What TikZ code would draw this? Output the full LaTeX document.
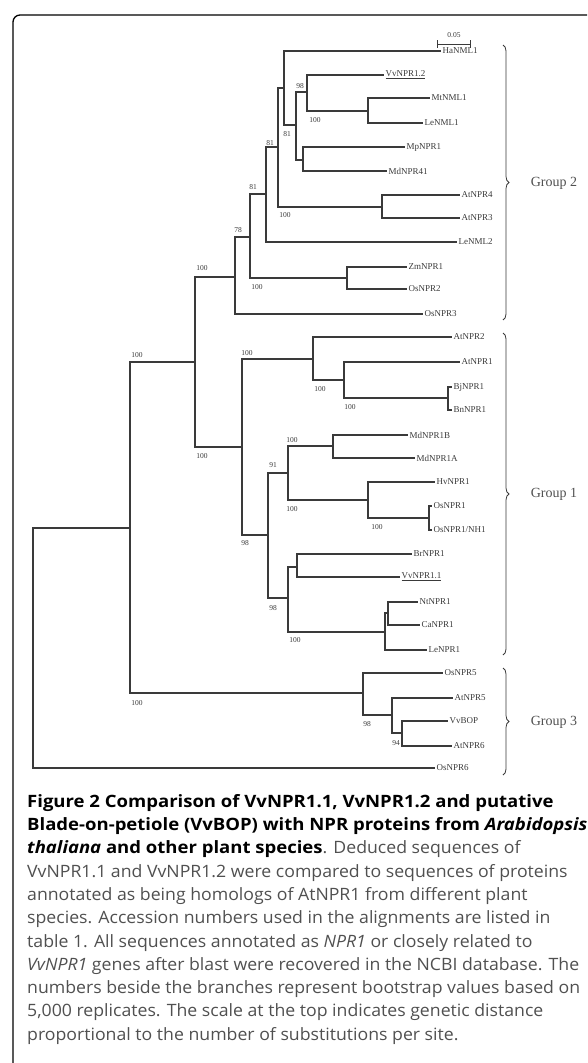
\documentclass[tikz,border=0pt]{standalone}
\usepackage{fontspec}
\setmainfont{Liberation Serif}
\newfontfamily\capfont{Open Sans}[FakeStretch=1.04, BoldFeatures={FakeStretch=1.09}, BoldItalicFeatures={FakeStretch=1.09}]
\usepackage{xcolor}
\usetikzlibrary{decorations.pathreplacing,positioning}
\definecolor{treegray}{HTML}{3A3A3A}
\definecolor{capgray}{HTML}{505050}

\begin{document}
\begin{tikzpicture}[
    x=1pt, y=-1pt,
    branch/.style={draw=treegray, line width=1.1pt},
    leaf/.style={anchor=west, inner sep=1.5pt, font=\fontsize{9}{9}\selectfont, text=treegray},
    boot/.style={inner sep=0pt, font=\fontsize{7.5}{7.5}\selectfont, text=treegray},
    group/.style={font=\fontsize{14}{14}\selectfont, text=capgray},
    gbrace/.style={draw=treegray, line width=0.8pt, decorate, decoration={brace, amplitude=6pt}}
]
    \useasboundingbox (0,0) rectangle (587,1063);
    \draw[line width=1.3pt, rounded corners=7pt] (13,1063) -- (13,15) -- (587,15);

    % internal nodes
    \coordinate (root) at (33,648);
    \coordinate (n_a) at (130,528);
    \coordinate (n_b) at (195,362);
    \coordinate (n_g2) at (235,277);
    \coordinate (n_250) at (250,237);
    \coordinate (n_347) at (347,278);
    \coordinate (n_266) at (266,194);
    \coordinate (n_278) at (278,147);
    \coordinate (n_382) at (382,207);
    \coordinate (n_284) at (284,88);
    \coordinate (n_296) at (296,125);
    \coordinate (n_307) at (307,92);
    \coordinate (n_368) at (368,111);
    \coordinate (n_303) at (303,160);
    \coordinate (n_g1) at (242,447);
    \coordinate (n_313) at (313,359);
    \coordinate (n_344) at (344,380);
    \coordinate (n_448) at (448,398);
    \coordinate (n_268) at (268,535);
    \coordinate (n_288a) at (288,473);
    \coordinate (n_333) at (333,446);
    \coordinate (n_368b) at (368,500);
    \coordinate (n_429) at (429,518);
    \coordinate (n_288b) at (288,598);
    \coordinate (n_297) at (297,567);
    \coordinate (n_385) at (385,632);
    \coordinate (n_388) at (388,613);
    \coordinate (n_g3) at (363,693);
    \coordinate (n_392) at (392,715);
    \coordinate (n_402) at (402,733);

    % leaves
    \node[leaf] (hanml1) at (441,51) {HaNML1};
    \node[leaf] (vvnpr12) at (384,75) {\underline{VvNPR1.2}};
    \node[leaf] (mtnml1) at (430,98) {MtNML1};
    \node[leaf] (lenml1) at (423,123) {LeNML1};
    \node[leaf] (mpnpr1) at (405,147) {MpNPR1};
    \node[leaf] (mdnpr41) at (387,171) {MdNPR41};
    \node[leaf] (atnpr4) at (460,195) {AtNPR4};
    \node[leaf] (atnpr3) at (460,218) {AtNPR3};
    \node[leaf] (lenml2) at (457,242) {LeNML2};
    \node[leaf] (zmnpr1) at (407,267) {ZmNPR1};
    \node[leaf] (osnpr2) at (407,289) {OsNPR2};
    \node[leaf] (osnpr3) at (423,314) {OsNPR3};
    \node[leaf] (atnpr2) at (452,337) {AtNPR2};
    \node[leaf] (atnpr1) at (460,362) {AtNPR1};
    \node[leaf] (bjnpr1) at (452,387) {BjNPR1};
    \node[leaf] (bnnpr1) at (452,410) {BnNPR1};
    \node[leaf] (mdnpr1b) at (408,435) {MdNPR1B};
    \node[leaf] (mdnpr1a) at (415,458) {MdNPR1A};
    \node[leaf] (hvnpr1) at (435,482) {HvNPR1};
    \node[leaf] (osnpr1) at (432,506) {OsNPR1};
    \node[leaf] (osnh1) at (432,530) {OsNPR1/NH1};
    \node[leaf] (brnpr1) at (412,554) {BrNPR1};
    \node[leaf] (vvnpr11) at (400,577) {\underline{VvNPR1.1}};
    \node[leaf] (ntnpr1) at (418,602) {NtNPR1};
    \node[leaf] (canpr1) at (420,625) {CaNPR1};
    \node[leaf] (lenpr1) at (427,650) {LeNPR1};
    \node[leaf] (osnpr5) at (443,673) {OsNPR5};
    \node[leaf] (atnpr5) at (453,698) {AtNPR5};
    \node[leaf] (vvbop) at (448,721) {VvBOP};
    \node[leaf] (atnpr6) at (452,746) {AtNPR6};
    \node[leaf] (osnpr6) at (435,768) {OsNPR6};

    % branches
    \draw[branch] (root) |- (n_a);
    \draw[branch] (root) |- (osnpr6.west);
    \draw[branch] (n_a) |- (n_b);
    \draw[branch] (n_a) |- (n_g3);
    \draw[branch] (n_b) |- (n_g2);
    \draw[branch] (n_b) |- (n_g1);
    \draw[branch] (n_g2) |- (n_250);
    \draw[branch] (n_g2) |- (osnpr3.west);
    \draw[branch] (n_250) |- (n_266);
    \draw[branch] (n_250) |- (n_347);
    \draw[branch] (n_347) |- (zmnpr1.west);
    \draw[branch] (n_347) |- (osnpr2.west);
    \draw[branch] (n_266) |- (n_278);
    \draw[branch] (n_266) |- (lenml2.west);
    \draw[branch] (n_278) |- (n_284);
    \draw[branch] (n_278) |- (n_382);
    \draw[branch] (n_382) |- (atnpr4.west);
    \draw[branch] (n_382) |- (atnpr3.west);
    \draw[branch] (n_284) |- (hanml1.west);
    \draw[branch] (n_284) |- (n_296);
    \draw[branch] (n_296) |- (n_307);
    \draw[branch] (n_296) |- (n_303);
    \draw[branch] (n_307) |- (vvnpr12.west);
    \draw[branch] (n_307) |- (n_368);
    \draw[branch] (n_368) |- (mtnml1.west);
    \draw[branch] (n_368) |- (lenml1.west);
    \draw[branch] (n_303) |- (mpnpr1.west);
    \draw[branch] (n_303) |- (mdnpr41.west);
    \draw[branch] (n_g1) |- (n_313);
    \draw[branch] (n_g1) |- (n_268);
    \draw[branch] (n_313) |- (atnpr2.west);
    \draw[branch] (n_313) |- (n_344);
    \draw[branch] (n_344) |- (atnpr1.west);
    \draw[branch] (n_344) |- (n_448);
    \draw[branch] (n_448) |- (bjnpr1.west);
    \draw[branch] (n_448) |- (bnnpr1.west);
    \draw[branch] (n_268) |- (n_288a);
    \draw[branch] (n_268) |- (n_288b);
    \draw[branch] (n_288a) |- (n_333);
    \draw[branch] (n_288a) |- (n_368b);
    \draw[branch] (n_333) |- (mdnpr1b.west);
    \draw[branch] (n_333) |- (mdnpr1a.west);
    \draw[branch] (n_368b) |- (hvnpr1.west);
    \draw[branch] (n_368b) |- (n_429);
    \draw[branch] (n_429) |- (osnpr1.west);
    \draw[branch] (n_429) |- (osnh1.west);
    \draw[branch] (n_288b) |- (n_297);
    \draw[branch] (n_288b) |- (n_385);
    \draw[branch] (n_297) |- (brnpr1.west);
    \draw[branch] (n_297) |- (vvnpr11.west);
    \draw[branch] (n_385) |- (n_388);
    \draw[branch] (n_385) |- (lenpr1.west);
    \draw[branch] (n_388) |- (ntnpr1.west);
    \draw[branch] (n_388) |- (canpr1.west);
    \draw[branch] (n_g3) |- (osnpr5.west);
    \draw[branch] (n_g3) |- (n_392);
    \draw[branch] (n_392) |- (atnpr5.west);
    \draw[branch] (n_392) |- (n_402);
    \draw[branch] (n_402) |- (vvbop.west);
    \draw[branch] (n_402) |- (atnpr6.west);

    % bootstrap values
    \node[boot] (b_1) at (300,86) {98};
    \node[boot] (b_2) at (315,120) {100};
    \node[boot] (b_3) at (287,134) {81};
    \node[boot] (b_4) at (270,143) {81};
    \node[boot] (b_5) at (253,187) {81};
    \node[boot] (b_6) at (285,215) {100};
    \node[boot] (b_7) at (238,230) {78};
    \node[boot] (b_8) at (257,287) {100};
    \node[boot] (b_9) at (202,268) {100};
    \node[boot] (b_10) at (137,355) {100};
    \node[boot] (b_11) at (247,353) {100};
    \node[boot] (b_12) at (320,389) {100};
    \node[boot] (b_13) at (350,407) {100};
    \node[boot] (b_14) at (202,456) {100};
    \node[boot] (b_15) at (292,440) {100};
    \node[boot] (b_16) at (273,465) {91};
    \node[boot] (b_17) at (292,509) {100};
    \node[boot] (b_18) at (377,527) {100};
    \node[boot] (b_19) at (245,543) {98};
    \node[boot] (b_20) at (273,608) {98};
    \node[boot] (b_21) at (295,640) {100};
    \node[boot] (b_22) at (137,703) {100};
    \node[boot] (b_23) at (367,724) {98};
    \node[boot] (b_24) at (396,743) {94};

    % scale bar
    \coordinate (sb_l) at (437,44);
    \coordinate (sb_r) at (470,44);
    \draw[branch, line width=0.8pt] (sb_l) -- (sb_r);
    \draw[branch, line width=0.8pt] ([yshift=4pt]sb_l) -- ([yshift=-4pt]sb_l);
    \draw[branch, line width=0.8pt] ([yshift=4pt]sb_r) -- ([yshift=-4pt]sb_r);
    \node[boot] (sb_lab) at (454,35) {0.05};

    % groups
    \coordinate (g2_top) at (503,45);
    \coordinate (g2_bot) at (503,320);
    \coordinate (g1_top) at (503,333);
    \coordinate (g1_bot) at (503,655);
    \coordinate (g3_top) at (503,668);
    \coordinate (g3_bot) at (503,775);
    \draw[gbrace] (g2_top) -- (g2_bot);
    \draw[gbrace] (g1_top) -- (g1_bot);
    \draw[gbrace] (g3_top) -- (g3_bot);
    \node[group] (grp2) at (554,183) {Group 2};
    \node[group] (grp1) at (554,494) {Group 1};
    \node[group] (grp3) at (554,722) {Group 3};

    \node[anchor=north west, inner sep=0pt, align=left, text=capgray,
          font=\capfont\fontsize{17}{23.3}\selectfont] (caption) at (27,794) {%
        {\bfseries\color{black}Figure 2 Comparison of VvNPR1.1, VvNPR1.2 and putative}\\
        {\bfseries\color{black}Blade-on-petiole (VvBOP) with NPR proteins from \itshape Arabidopsis}\\
        {\bfseries\color{black}\itshape thaliana\upshape{} and other plant species}. Deduced sequences of\\
        VvNPR1.1 and VvNPR1.2 were compared to sequences of proteins\\
        annotated as being homologs of AtNPR1 from different plant\\
        species. Accession numbers used in the alignments are listed in\\
        table 1. All sequences annotated as \textit{NPR1} or closely related to\\
        \textit{VvNPR1} genes after blast were recovered in the NCBI database. The\\
        numbers beside the branches represent bootstrap values based on\\
        5,000 replicates. The scale at the top indicates genetic distance\\
        proportional to the number of substitutions per site.};
\end{tikzpicture}
\end{document}
